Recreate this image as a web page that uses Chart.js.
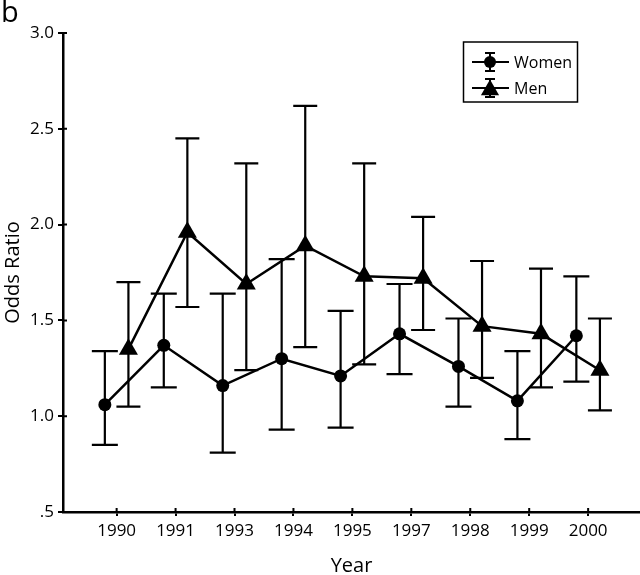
<!DOCTYPE html>
<html>
<head>
<meta charset="utf-8">
<script src="https://cdn.jsdelivr.net/npm/chart.js@4.4.0/dist/chart.umd.min.js"></script>
<style>
  html, body { margin: 0; padding: 0; background: #fff; }
  #wrap { width: 640px; height: 575px; }
</style>
</head>
<body>
<div id="wrap"><canvas id="oddsChart" width="640" height="575"></canvas></div>
<script>
const years = ['1990', '1991', '1993', '1994', '1995', '1997', '1998', '1999', '2000'];

const womenOR   = [1.06, 1.37, 1.16, 1.30, 1.21, 1.43, 1.26, 1.08, 1.42];
const womenLow  = [0.85, 1.15, 0.81, 0.93, 0.94, 1.22, 1.05, 0.88, 1.18];
const womenHigh = [1.34, 1.64, 1.64, 1.82, 1.55, 1.69, 1.51, 1.34, 1.73];

const menOR   = [1.35, 1.96, 1.69, 1.89, 1.73, 1.72, 1.47, 1.43, 1.24];
const menLow  = [1.05, 1.57, 1.24, 1.36, 1.27, 1.45, 1.20, 1.15, 1.03];
const menHigh = [1.70, 2.45, 2.32, 2.62, 2.32, 2.04, 1.81, 1.77, 1.51];

const yTicks = [0.5, 1.0, 1.5, 2.0, 2.5, 3.0];

const FONT = "'Open Sans', 'DejaVu Sans', sans-serif";
const GROUP_OFFSET = 0.2; // women left of the year tick, men right

function toPoints(values, shift) {
    return values.map((v, i) => ({ x: i + shift, y: v }));
}

// error bars with caps, drawn under the markers
const errorBars = {
    id: 'errorBars',
    beforeDatasetsDraw(chart) {
        const { ctx, scales: { x, y } } = chart;
        const groups = [
            { low: womenLow, high: womenHigh, shift: -GROUP_OFFSET, cap: 13 },
            { low: menLow, high: menHigh, shift: GROUP_OFFSET, cap: 12 }
        ];
        ctx.save();
        ctx.strokeStyle = '#000';
        ctx.lineWidth = 2.2;
        groups.forEach(g => {
            g.low.forEach((lo, i) => {
                const px = x.getPixelForValue(i + g.shift);
                const top = y.getPixelForValue(g.high[i]);
                const bot = y.getPixelForValue(lo);
                ctx.beginPath();
                ctx.moveTo(px, top);
                ctx.lineTo(px, bot);
                ctx.moveTo(px - g.cap, top);
                ctx.lineTo(px + g.cap, top);
                ctx.moveTo(px - g.cap, bot);
                ctx.lineTo(px + g.cap, bot);
                ctx.stroke();
            });
        });
        ctx.restore();
    }
};

// small tick stubs crossing into the plot, panel letter and boxed legend
const decorations = {
    id: 'decorations',
    afterDraw(chart) {
        const { ctx, scales: { x, y }, chartArea } = chart;
        ctx.save();
        ctx.strokeStyle = '#000';
        ctx.lineWidth = 2;
        ctx.beginPath();
        x.ticks.forEach(t => {
            const px = x.getPixelForValue(t.value);
            ctx.moveTo(px, chartArea.bottom);
            ctx.lineTo(px, chartArea.bottom - 4);
        });
        y.ticks.forEach(t => {
            const py = y.getPixelForValue(t.value);
            ctx.moveTo(chartArea.left, py);
            ctx.lineTo(chartArea.left + 4, py);
        });
        ctx.stroke();

        ctx.fillStyle = '#000';
        ctx.font = '29px ' + FONT;
        ctx.textBaseline = 'alphabetic';
        ctx.textAlign = 'left';
        ctx.fillText('b', 1, 22);

        // legend box
        ctx.lineWidth = 1.5;
        ctx.strokeRect(463.5, 42, 114, 60);
        const entries = [
            { label: 'Women', style: 'circle', r: 6, cy: 62 },
            { label: 'Men', style: 'triangle', r: 10.5, cy: 88 }
        ];
        entries.forEach(e => {
            ctx.lineWidth = 2;
            ctx.beginPath();
            ctx.moveTo(472, e.cy);
            ctx.lineTo(509, e.cy);
            ctx.moveTo(490, e.cy - 9);
            ctx.lineTo(490, e.cy + 9);
            ctx.moveTo(485, e.cy - 9);
            ctx.lineTo(495, e.cy - 9);
            ctx.moveTo(485, e.cy + 9);
            ctx.lineTo(495, e.cy + 9);
            ctx.stroke();
            Chart.helpers.drawPoint(ctx, { pointStyle: e.style, radius: e.r, borderWidth: 0 }, 490, e.cy + (e.style === 'triangle' ? 2 : 0));
            ctx.fillStyle = '#000';
            ctx.font = '16px ' + FONT;
            ctx.textBaseline = 'middle';
            ctx.fillText(e.label, 514, e.cy + 1);
        });
        ctx.restore();
    }
};

const ctx = document.getElementById('oddsChart').getContext('2d');

new Chart(ctx, {
    type: 'line',
    data: {
        datasets: [
            {
                label: 'Women',
                data: toPoints(womenOR, -GROUP_OFFSET),
                borderColor: '#000',
                backgroundColor: '#000',
                borderWidth: 2.5,
                pointStyle: 'circle',
                pointRadius: 6.5,
                pointBorderWidth: 0,
                tension: 0
            },
            {
                label: 'Men',
                data: toPoints(menOR, GROUP_OFFSET),
                borderColor: '#000',
                backgroundColor: '#000',
                borderWidth: 2.5,
                pointStyle: 'triangle',
                pointRadius: 11,
                pointBorderWidth: 0,
                tension: 0
            }
        ]
    },
    options: {
        responsive: false,
        animation: false,
        layout: { autoPadding: false, padding: { top: 33, right: 0, left: 0, bottom: 0 } },
        plugins: {
            legend: { display: false },
            tooltip: { enabled: false }
        },
        scales: {
            x: {
                type: 'linear',
                min: -0.91,
                max: 8.88,
                afterBuildTicks: scale => {
                    scale.ticks = years.map((_, i) => ({ value: i }));
                },
                afterFit: scale => {
                    scale.height = 63;
                    scale.paddingLeft = 0;
                    scale.paddingRight = 0;
                },
                grid: { display: true, drawOnChartArea: false, color: '#000', lineWidth: 2, tickLength: 4 },
                border: { display: true, color: '#000', width: 2.5 },
                ticks: {
                    color: '#000',
                    font: { family: FONT, size: 17 },
                    padding: 5,
                    maxRotation: 0,
                    autoSkip: false,
                    callback: v => years[v]
                },
                title: {
                    display: true,
                    text: 'Year',
                    color: '#000',
                    font: { family: FONT, size: 20, lineHeight: 1 },
                    padding: { top: 0, bottom: -1 }
                }
            },
            y: {
                min: 0.5,
                max: 3.0,
                afterBuildTicks: scale => {
                    scale.ticks = yTicks.map(v => ({ value: v }));
                },
                afterFit: scale => {
                    scale.width = 63;
                    scale.paddingTop = 0;
                    scale.paddingBottom = 0;
                },
                grid: { display: true, drawOnChartArea: false, color: '#000', lineWidth: 2, tickLength: 5 },
                border: { display: true, color: '#000', width: 2.5 },
                ticks: {
                    color: '#000',
                    font: { family: FONT, size: 17 },
                    padding: 4,
                    callback: v => (v === 0.5 ? '.5' : v.toFixed(1))
                },
                title: {
                    display: true,
                    text: 'Odds Ratio',
                    color: '#000',
                    font: { family: FONT, size: 20, lineHeight: 1 },
                    padding: { top: 3, bottom: 0 }
                }
            }
        }
    },
    plugins: [errorBars, decorations]
});
</script>
</body>
</html>
